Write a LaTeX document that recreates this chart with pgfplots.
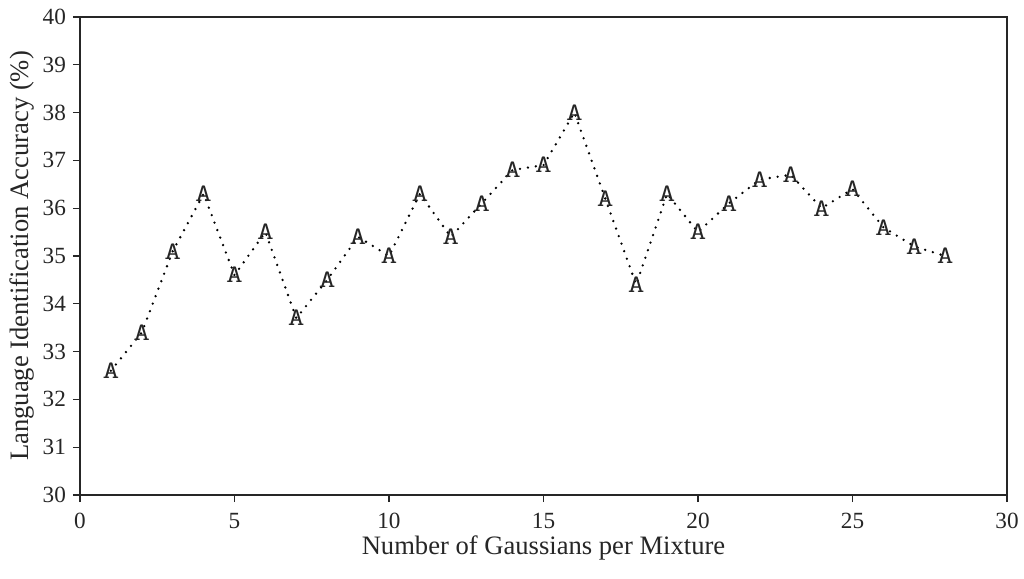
\documentclass[border=0pt]{standalone}
\usepackage{fontspec}
\setmainfont{Liberation Serif}
\usepackage{graphicx}
\usepackage{pgfplots}
\pgfplotsset{compat=1.18}
\begin{document}
\begin{tikzpicture}
\begin{axis}[
  name=ax,
  scale only axis,
  width=463.5pt, height=239pt,
  xmin=0, xmax=30, ymin=30, ymax=40,
  xtick={0,5,...,30}, ytick={30,31,...,40},
  axis line style={line width=1.2pt, color=black!85},
  tick style={line width=0.6pt, color=black!85},
  tick align=outside, major tick length=3.5pt,
  xtick pos=bottom, ytick pos=left,
  /pgf/number format/assume math mode=true,
  tick label style={font=\fontsize{11.6}{11.6}\selectfont, text=black!85},
  xticklabel style={yshift=-2pt},
  xlabel={Number of Gaussians per Mixture},
  ylabel={Language Identification Accuracy (\%)},
  label style={font=\fontsize{13.3}{13.3}\selectfont, text=black!85},
  xlabel style={at={(axis description cs:0.5,0)}, anchor=center, yshift=-26.5pt},
  ylabel style={at={(axis description cs:-0.0625,0.5)}, anchor=center},
]
\addplot[black, line width=1.3pt, line cap=round, dash pattern=on 0pt off 4pt,
  mark=text, text mark={\fontsize{12.5}{12.5}\selectfont\ttfamily\color{black!85}\scalebox{1.3}[1]{A}},
  mark options={solid}]
coordinates {
(1,32.6) (2,33.4) (3,35.1) (4,36.3) (5,34.6) (6,35.5) (7,33.7) (8,34.5)
(9,35.4) (10,35.0) (11,36.3) (12,35.4) (13,36.1) (14,36.8) (15,36.9) (16,38.0)
(17,36.2) (18,34.4) (19,36.3) (20,35.5) (21,36.1) (22,36.6) (23,36.7) (24,36.0)
(25,36.4) (26,35.6) (27,35.2) (28,35.0)
};
\end{axis}
\pgfresetboundingbox
\path[use as bounding box] ([xshift=-40pt,yshift=-42pt]ax.south west) rectangle ([xshift=8.5pt,yshift=8.5pt]ax.north east);
\end{tikzpicture}
\end{document}
